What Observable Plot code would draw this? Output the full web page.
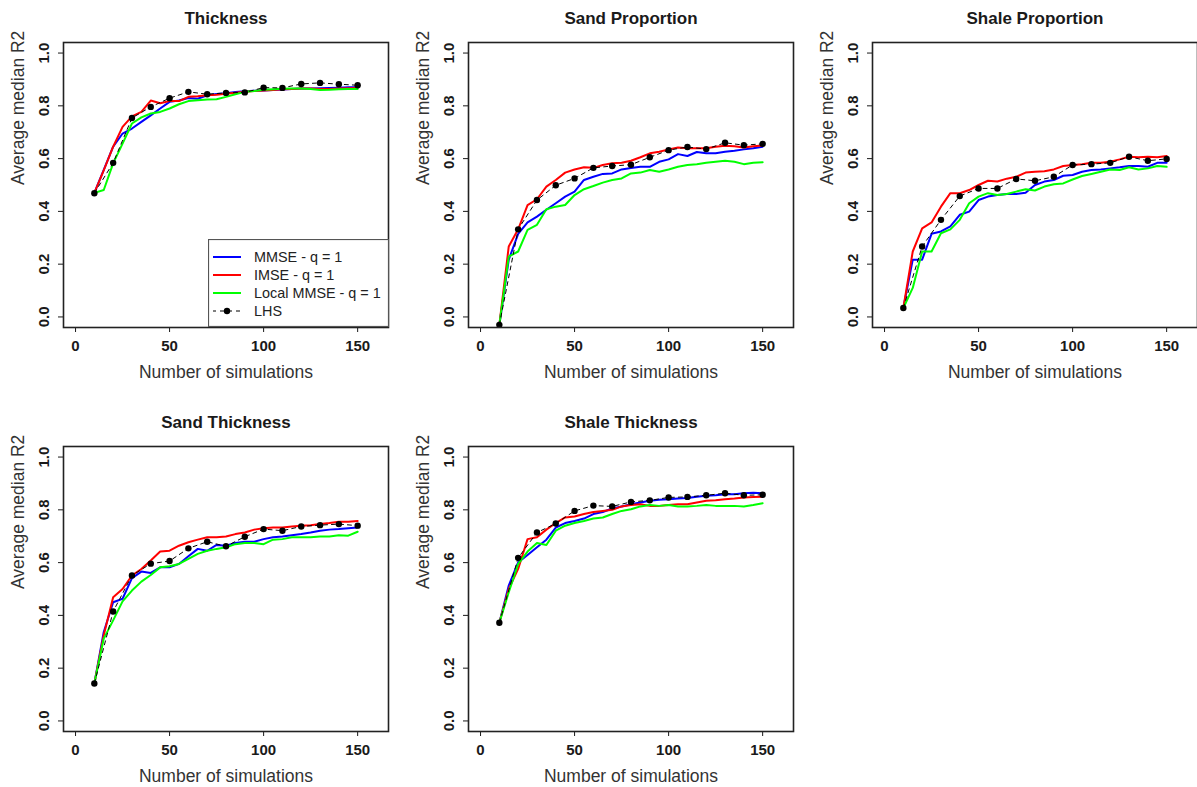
<!DOCTYPE html>
<html><head><meta charset="utf-8">
<script src="https://cdn.jsdelivr.net/npm/d3@7"></script>
<script src="https://cdn.jsdelivr.net/npm/@observablehq/plot@0.6"></script>
<style>
html,body{margin:0;padding:0;background:#fff;overflow:hidden;}
#page{position:relative;width:1197px;height:787px;overflow:hidden;font-family:"Liberation Sans",Arial,Helvetica,sans-serif;background:#fff;}
.panel{position:absolute;width:400px;height:382px;}
.panel svg{max-width:none !important;width:400px;height:382px;}
</style></head><body><div id="page"></div>
<script>
// ---- data ----
const simsAdaptive = [10,15,20,25,30,35,40,45,50,55,60,65,70,75,80,85,90,95,100,105,110,115,120,125,130,135,140,145,150];
const simsLHS = [10,20,30,40,50,60,70,80,90,100,110,120,130,140,150];
const xTicks = [0,50,100,150];
const yTicks = [0,0.2,0.4,0.6,0.8,1.0];
const methods = ["MMSE - q = 1","IMSE - q = 1","Local MMSE - q = 1","LHS"];
const methodColors = ["#0000ff","#ff0000","#00ff00","#000000"];
const titles = ["Thickness","Sand Proportion","Shale Proportion","Sand Thickness","Shale Thickness"];
const xLabel = "Number of simulations";
const yLabel = "Average median R2";

const thicknessMMSE = [.47,.557,.645,.695,.714,.739,.764,.79,.815,.82,.83,.827,.84,.845,.848,.852,.855,.857,.858,.86,.862,.864,.866,.866,.867,.868,.869,.87,.87];
const thicknessIMSE = [.47,.555,.645,.72,.76,.777,.82,.81,.818,.818,.834,.836,.84,.842,.846,.85,.853,.856,.858,.86,.863,.864,.866,.866,.864,.864,.866,.867,.868];
const thicknessLocal = [.47,.481,.582,.657,.733,.756,.771,.777,.79,.806,.818,.821,.824,.825,.834,.844,.853,.856,.861,.863,.865,.866,.866,.864,.86,.861,.863,.864,.864];
const thicknessLHS = [.469,.584,.754,.796,.829,.853,.844,.849,.851,.869,.868,.883,.887,.882,.878];

const sandPropMMSE = [-.03,.217,.315,.358,.38,.406,.431,.456,.475,.519,.531,.542,.544,.559,.564,.569,.569,.588,.597,.617,.61,.625,.62,.62,.626,.63,.635,.639,.645];
const sandPropIMSE = [-.03,.267,.332,.424,.446,.494,.519,.547,.559,.567,.565,.576,.582,.584,.592,.605,.62,.626,.635,.642,.639,.639,.639,.645,.649,.647,.642,.647,.65];
const sandPropLocal = [-.03,.229,.248,.33,.349,.408,.418,.424,.462,.484,.496,.509,.519,.525,.544,.547,.557,.55,.559,.569,.576,.579,.584,.588,.592,.588,.579,.584,.586];
const sandPropLHS = [-.03,.332,.443,.499,.525,.565,.572,.577,.605,.632,.644,.636,.66,.651,.656];

const shalePropMMSE = [.034,.217,.217,.315,.324,.343,.387,.399,.443,.456,.462,.466,.466,.471,.5,.513,.519,.535,.538,.55,.557,.559,.563,.567,.572,.572,.569,.584,.584];
const shalePropIMSE = [.034,.248,.336,.358,.418,.469,.469,.481,.5,.516,.513,.524,.531,.547,.55,.552,.559,.572,.576,.579,.584,.584,.588,.597,.607,.605,.607,.605,.61];
const shalePropLocal = [.034,.11,.248,.248,.317,.332,.368,.431,.456,.469,.462,.466,.475,.484,.479,.494,.503,.506,.521,.534,.542,.55,.559,.557,.567,.559,.563,.572,.569];
const shalePropLHS = [.034,.267,.368,.458,.487,.487,.523,.516,.531,.576,.579,.584,.607,.592,.599];

const sandThickMMSE = [.142,.337,.45,.463,.541,.566,.561,.582,.582,.595,.624,.652,.645,.667,.664,.674,.679,.679,.689,.696,.699,.704,.708,.714,.721,.725,.727,.73,.733];
const sandThickIMSE = [.142,.325,.469,.5,.551,.576,.608,.642,.645,.664,.677,.687,.696,.696,.699,.708,.714,.725,.73,.733,.733,.737,.74,.742,.746,.75,.755,.755,.758];
const sandThickLocal = [.142,.312,.381,.453,.494,.528,.553,.582,.586,.595,.614,.633,.645,.652,.658,.67,.674,.674,.67,.687,.689,.696,.696,.696,.699,.699,.704,.702,.717];
const sandThickLHS = [.142,.415,.551,.596,.606,.654,.679,.662,.698,.727,.721,.737,.742,.746,.74];

const shaleThickMMSE = [.372,.513,.601,.629,.658,.687,.733,.75,.758,.767,.784,.792,.805,.813,.821,.828,.834,.838,.84,.843,.845,.85,.853,.855,.859,.859,.863,.865,.863];
const shaleThickIMSE = [.372,.5,.576,.689,.696,.725,.75,.771,.775,.784,.792,.796,.8,.813,.818,.821,.815,.815,.818,.821,.821,.828,.834,.836,.84,.843,.847,.849,.85];
const shaleThickLocal = [.372,.488,.595,.642,.674,.667,.721,.74,.75,.758,.767,.771,.784,.796,.802,.813,.818,.815,.818,.813,.813,.815,.818,.815,.815,.815,.813,.818,.825];
const shaleThickLHS = [.372,.618,.714,.748,.796,.816,.813,.83,.836,.847,.849,.855,.863,.855,.857];

// ---- build ----
const panelSeries = [
  [thicknessMMSE, thicknessIMSE, thicknessLocal, thicknessLHS],
  [sandPropMMSE, sandPropIMSE, sandPropLocal, sandPropLHS],
  [shalePropMMSE, shalePropIMSE, shalePropLocal, shalePropLHS],
  [sandThickMMSE, sandThickIMSE, sandThickLocal, sandThickLHS],
  [shaleThickMMSE, shaleThickIMSE, shaleThickLocal, shaleThickLHS]
];
const layout = [[0,0],[405,0],[809,0],[0,404],[405,404]];
const FONT = '"Liberation Sans",Arial,Helvetica,sans-serif';
const page = document.getElementById("page");

panelSeries.forEach((series, i) => {
  const adaptive = [];
  for (let m = 0; m < 3; m++) {
    series[m].forEach((v, j) => adaptive.push({sims: simsAdaptive[j], r2: v, method: methods[m]}));
  }
  const lhs = series[3].map((v, j) => ({sims: simsLHS[j], r2: v, method: methods[3]}));
  const chart = Plot.plot({
    width: 400, height: 382,
    marginTop: 42, marginBottom: 55, marginLeft: 63, marginRight: 12,
    style: {fontFamily: FONT, background: "transparent", color: "#1a1a1a", overflow: "visible"},
    x: {domain: [-6.4, 166.4]},
    y: {domain: [-0.04, 1.04]},
    color: {domain: methods, range: methodColors},
    marks: [
      Plot.axisX(xTicks, {tickSize: 5, tickPadding: 8, fontSize: 15, fontWeight: "bold", label: null, tickFormat: d => String(d)}),
      Plot.axisY(yTicks, {tickSize: 5, tickPadding: 10, tickRotate: -90, fontSize: 15, fontWeight: "bold", label: null, tickFormat: d3.format(".1f")}),
      Plot.line(adaptive, {x: "sims", y: "r2", z: "method", stroke: "method", strokeWidth: 2}),
      Plot.line(lhs, {x: "sims", y: "r2", stroke: "method", strokeWidth: 1, strokeDasharray: "4,4"}),
      Plot.dot(lhs, {x: "sims", y: "r2", fill: "method", r: 3.2, stroke: null}),
      Plot.frame({stroke: "#222", strokeWidth: 1.6}),
      Plot.text([titles[i]], {text: d => d, frameAnchor: "top", dy: -19, lineAnchor: "bottom", fontSize: 17, fontWeight: "bold"}),
      Plot.text([xLabel], {text: d => d, frameAnchor: "bottom", dy: 50, lineAnchor: "bottom", fontSize: 17.5, fill: "#333"}),
      Plot.text([yLabel], {text: d => d, frameAnchor: "left", dx: -40, rotate: -90, lineAnchor: "bottom", fontSize: 17.5, fill: "#333"})
    ]
  });
  const div = document.createElement("div");
  div.className = "panel";
  div.style.left = layout[i][0] + "px";
  div.style.top = layout[i][1] + "px";
  div.appendChild(chart);
  page.appendChild(div);
});

// ---- legend (inside the first panel, bottom-right) ----
const leg = d3.select(page).append("svg")
  .attr("width", 181).attr("height", 88)
  .style("position", "absolute").style("left", "208px").style("top", "239px");
leg.append("rect").attr("x", 0.5).attr("y", 0.5).attr("width", 180).attr("height", 87)
  .attr("fill", "#fff").attr("stroke", "#555").attr("stroke-width", 1.2);
methods.forEach((m, k) => {
  const cy = 18 + k * 18;
  const g = leg.append("g");
  g.append("line").attr("x1", 5).attr("x2", 33).attr("y1", cy).attr("y2", cy)
    .attr("stroke", methodColors[k]).attr("stroke-width", k < 3 ? 2 : 1)
    .attr("stroke-dasharray", k < 3 ? null : "4,4").attr("stroke-dashoffset", k < 3 ? null : 1);
  if (k === 3) g.append("circle").attr("cx", 19).attr("cy", cy).attr("r", 3.2).attr("fill", "#000");
  g.append("text").attr("x", 46).attr("y", cy + 5).attr("font-size", 14.4)
    .attr("font-family", FONT).attr("fill", "#222").text(m);
});
</script>
</body></html>
